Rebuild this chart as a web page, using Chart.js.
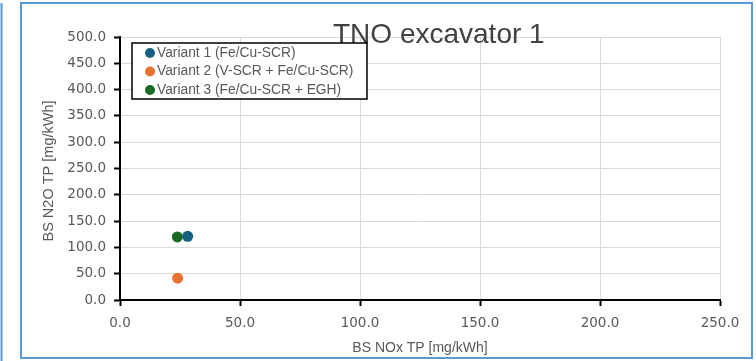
<!DOCTYPE html>
<html>
<head>
<meta charset="utf-8">
<script src="https://cdn.jsdelivr.net/npm/chart.js@4.4.1/dist/chart.umd.min.js"></script>
<style>
html,body{margin:0;padding:0;background:#fff;}
#wrap{position:relative;width:756px;height:361px;}
</style>
</head>
<body>
<div id="wrap"><canvas id="c" width="756" height="361"></canvas></div>
<script>
// ---- data ----
const chartTitle = "TNO excavator 1";
const xAxisTitle = "BS NOx TP [mg/kWh]";
const yAxisTitle = "BS N2O TP [mg/kWh]";
const seriesNames = ["Variant 1 (Fe/Cu-SCR)", "Variant 2 (V-SCR + Fe/Cu-SCR)", "Variant 3 (Fe/Cu-SCR + EGH)"];
const seriesColors = ["#156082", "#E97132", "#196B24"];
const noxValues = [28.2, 24.0, 23.9];   // x
const n2oValues = [121.0, 41.5, 120.0]; // y
const xTicks = [0, 50, 100, 150, 200, 250];
const yTicks = [0, 50, 100, 150, 200, 250, 300, 350, 400, 450, 500];

const datasets = seriesNames.map((name, i) => ({
  label: name,
  data: [{x: noxValues[i], y: n2oValues[i]}],
  backgroundColor: seriesColors[i],
  borderColor: seriesColors[i],
  borderWidth: 0,
  pointRadius: 5.5,
  pointHoverRadius: 5.5
}));

const tickFont = {family: "'DejaVu Sans', sans-serif", size: 13.5};
const textGray = "#595959";

const decorPlugin = {
  id: 'decor',
  beforeDraw(chart) {
    const ctx = chart.ctx;
    ctx.save();
    ctx.fillStyle = '#fff';
    ctx.fillRect(0, 0, chart.width, chart.height);
    ctx.restore();
  },
  afterDraw(chart) {
    const ctx = chart.ctx;
    const ca = chart.chartArea;
    ctx.save();
    // frame
    ctx.strokeStyle = '#5B9BD5';
    ctx.lineWidth = 2;
    ctx.strokeRect(21, 3, 731, 355);
    ctx.beginPath();
    ctx.moveTo(1.5, 3); ctx.lineTo(1.5, 361);
    ctx.stroke();
    // chart title
    ctx.fillStyle = '#404040';
    ctx.font = "28px 'Liberation Sans', Arial, sans-serif";
    ctx.textAlign = 'left';
    ctx.textBaseline = 'alphabetic';
    ctx.fillText(chartTitle, 333, 43);
    // axis titles
    ctx.fillStyle = textGray;
    ctx.font = "14px 'Liberation Sans', Arial, sans-serif";
    ctx.textAlign = 'center';
    ctx.textBaseline = 'middle';
    ctx.fillText(xAxisTitle, (ca.left + ca.right) / 2, 348);
    ctx.save();
    ctx.translate(49, 171);
    ctx.rotate(-Math.PI / 2);
    ctx.font = "14.5px 'Liberation Sans', Arial, sans-serif";
    ctx.fillText(yAxisTitle, 0, 0);
    ctx.restore();
    // legend
    const lx = 132, ly = 43, lw = 235, lh = 56;
    ctx.fillStyle = '#fff';
    ctx.fillRect(lx, ly, lw, lh);
    ctx.strokeStyle = '#000';
    ctx.lineWidth = 1.5;
    ctx.strokeRect(lx, ly, lw, lh);
    ctx.font = "13.8px 'Liberation Sans', Arial, sans-serif";
    ctx.textAlign = 'left';
    ctx.textBaseline = 'middle';
    chart.data.datasets.forEach((ds, i) => {
      const cy = 53 + i * 18.5;
      ctx.fillStyle = ds.backgroundColor;
      ctx.beginPath();
      ctx.arc(150, cy, 5, 0, Math.PI * 2);
      ctx.fill();
      ctx.fillStyle = textGray;
      ctx.fillText(ds.label, 157, cy);
    });
    ctx.restore();
  }
};

new Chart(document.getElementById('c'), {
  type: 'scatter',
  data: {datasets},
  options: {
    responsive: false,
    animation: false,
    layout: {padding: {left: 0, top: 37, right: 36, bottom: 0}},
    plugins: {legend: {display: false}, title: {display: false}, tooltip: {enabled: false}},
    scales: {
      x: {
        type: 'linear', min: 0, max: 250,
        afterBuildTicks: s => { s.ticks = xTicks.map(v => ({value: v})); },
        afterFit: s => { s.height = 61; },
        ticks: {font: tickFont, color: textGray, padding: 9, maxRotation: 0, callback: v => Number(v).toFixed(1)},
        grid: {color: '#D9D9D9', lineWidth: 1, tickColor: '#000', tickLength: 6, tickWidth: 2},
        border: {color: '#000', width: 2},
        title: {display: false}
      },
      y: {
        type: 'linear', min: 0, max: 500,
        afterBuildTicks: s => { s.ticks = yTicks.map(v => ({value: v})); },
        afterFit: s => { s.width = 120; },
        ticks: {font: tickFont, color: textGray, padding: 8, callback: v => Number(v).toFixed(1)},
        grid: {color: '#D9D9D9', lineWidth: 1, tickColor: '#000', tickLength: 6, tickWidth: 2},
        border: {color: '#000', width: 2},
        title: {display: false}
      }
    }
  },
  plugins: [decorPlugin]
});
</script>
</body>
</html>
